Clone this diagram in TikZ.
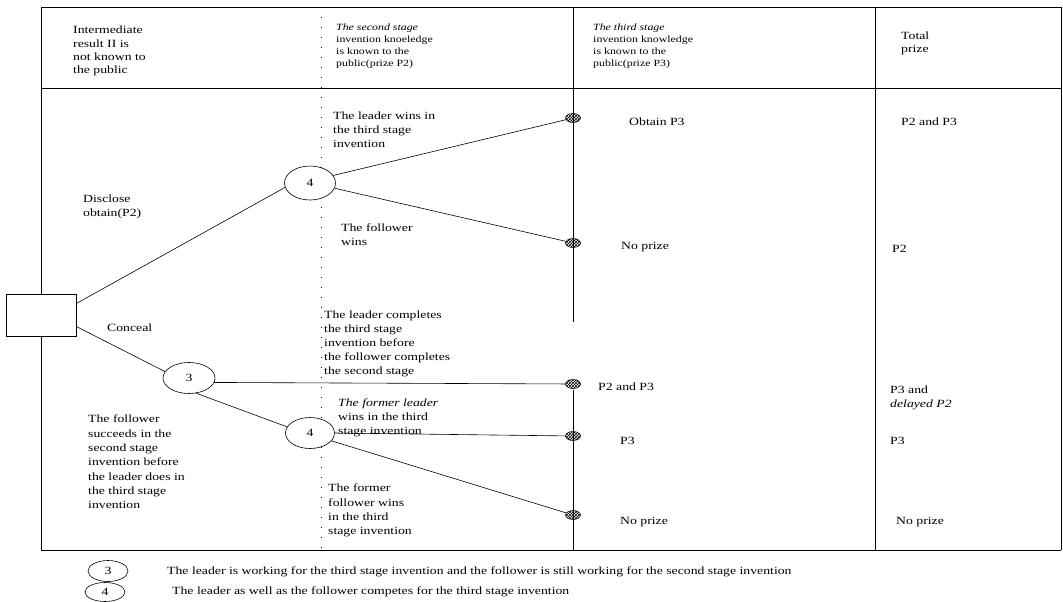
\documentclass[tikz,border=0pt]{standalone}
\usepackage{fontspec}
\setmainfont{Liberation Serif}[FakeStretch=1.25]
\usepackage{tikz}
\usetikzlibrary{shapes.geometric,patterns,positioning}
\tikzset{>=latex}
\tikzset{font=\fontsize{11}{13.8}\selectfont}
\tikzset{rule/.style={line width=0.6pt},
  branch/.style={line width=0.6pt},
  chance/.style={ellipse, draw, fill=white, line width=0.6pt,
    minimum width=50pt, minimum height=32pt, inner sep=0pt},
  keyoval/.style={ellipse, draw, line width=0.6pt,
    minimum width=40pt, minimum height=20pt, inner sep=0pt},
  leaf/.style={ellipse, draw, pattern=crosshatch, line width=0.5pt,
    minimum width=15pt, minimum height=9pt, inner sep=0pt},
  lbl/.style={anchor=north west, inner sep=0pt, align=left},
  smalllbl/.style={lbl, font=\fontsize{9.5}{12}\selectfont}}

\begin{document}
\begin{tikzpicture}[x=1pt,y=-1pt]
  \useasboundingbox (0,0) rectangle (1063,602);
  % table frame
  \draw[rule] (41,7) -- (1061,7);
  \draw[rule] (41,88) -- (1061,88);
  \draw[rule] (41,550) -- (1061,550);
  \draw[rule] (41,7) -- (41,550);
  \draw[rule] (875,7) -- (875,550);
  \draw[rule] (1061,7) -- (1061,550);
  \draw[rule] (573,7) -- (573,322);
  \draw[rule] (573,390) -- (573,550);
  \draw[line width=0.6pt, dash pattern=on 1pt off 9pt] (321,7) -- (321,550);

  % headings
  \node[lbl, font=\fontsize{11}{13.3}\selectfont] (hdres) at (73,26)
    {Intermediate\\result II is\\not known to\\the public};
  \node[smalllbl] (hdsec) at (336,24)
    {\textit{The second stage}\\invention knoeledge\\is known to the\\public(prize P2)};
  \node[smalllbl] (hdthi) at (593,24)
    {\textit{The third stage}\\invention knowledge\\is known to the\\public(prize P3)};
  \node[lbl, font=\fontsize{11}{12.5}\selectfont] (hdtot) at (901,32) {Total\\prize};

  % tree
  \node[draw, rule, fill=white, minimum width=70pt, minimum height=42pt] (root) at (41,315) {};
  \node[chance, minimum width=51pt, minimum height=34pt] (d4) at (310,183) {4};
  \node[chance, minimum width=52pt, minimum height=31pt] (c3) at (189,378) {3};
  \node[chance, minimum width=49pt, minimum height=31pt] (c4) at (310,433) {4};
  \node[leaf] (t1) at (573,118) {};
  \node[leaf] (t2) at (573,243) {};
  \node[leaf] (t3) at (573,384) {};
  \node[leaf] (t4) at (573,436) {};
  \node[leaf] (t5) at (573,515) {};

  \draw[branch] (root.18) -- (d4.190);
  \draw[branch] (root.-18) -- (c3.165);
  \draw[branch] (d4.18) -- (t1);
  \draw[branch] (d4.-12) -- (t2);
  \draw[branch] (c3.-10) -- (t3);
  \draw[branch] (c3.-65) -- (c4.165);
  \draw[branch] (c4.east) -- (t4);
  \draw[branch] (c4.-20) -- (t5);

  % branch labels
  \node[lbl] (disc) at (83,195) {Disclose\\obtain(P2)};
  \node[lbl] (conc) at (107,324) {Conceal};
  \node[lbl] (lwin) at (333,112) {The leader wins in\\the third stage\\invention};
  \node[lbl] (fwin) at (341,224) {The follower\\wins};
  \node[lbl] (lcomp) at (324,311)
    {The leader completes\\the third stage\\invention before\\the follower completes\\the second stage};
  \node[lbl] (flead) at (338,399) {\textit{The former leader}\\wins in the third\\stage invention};
  \node[lbl, font=\fontsize{11}{14.3}\selectfont] (fsucc) at (88,415)
    {The follower\\succeeds in the\\second stage\\invention before\\the leader does in\\the third stage\\invention};
  \node[lbl, font=\fontsize{11}{14.3}\selectfont] (ffoll) at (328,484)
    {The former\\follower wins\\in the third\\stage invention};

  % outcomes
  \node[lbl] (o1) at (629,118) {Obtain P3};
  \node[lbl] (o2) at (621,242) {No prize};
  \node[lbl] (o3) at (598,383) {P2 and P3};
  \node[lbl] (o4) at (620,437) {P3};
  \node[lbl] (o5) at (620,517) {No prize};
  \node[lbl] (s1) at (901,118) {P2 and P3};
  \node[lbl] (s2) at (892,245) {P2};
  \node[lbl] (s3) at (890,386) {P3 and\\\textit{delayed P2}};
  \node[lbl] (s4) at (890,437) {P3};
  \node[lbl] (s5) at (896,517) {No prize};

  % key
  \node[keyoval, minimum height=21pt] (leg3) at (108,571) {3};
  \node[keyoval, minimum height=19pt] (leg4) at (105,592) {4};
  \node[anchor=west, inner sep=0pt] (key3) at (167,572)
    {The leader is working for the third stage invention and the follower is still working for the second stage invention};
  \node[anchor=west, inner sep=0pt] (key4) at (172,592)
    {The leader as well as the follower competes for the third stage invention};
\end{tikzpicture}
\end{document}
